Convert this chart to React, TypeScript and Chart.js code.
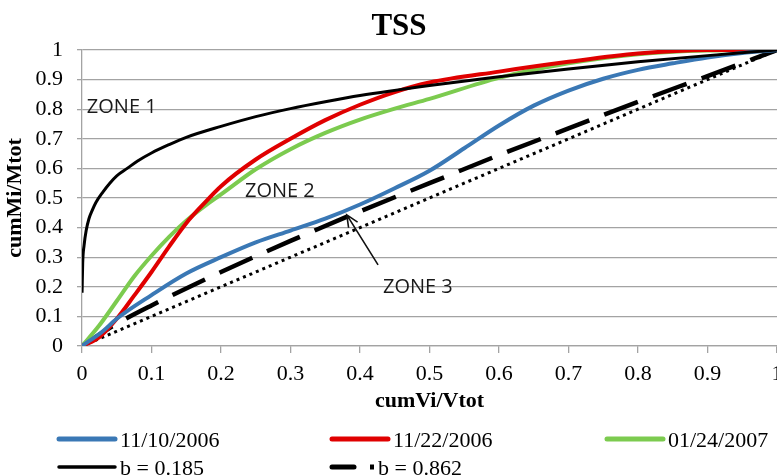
import React, { useEffect, useRef } from "react";
import { Chart, registerables } from "chart.js";

Chart.register(...registerables);

// ---------- data ----------
const tickValues = [0, 0.1, 0.2, 0.3, 0.4, 0.5, 0.6, 0.7, 0.8, 0.9, 1];

const seriesLabels = ["11/10/2006", "11/22/2006", "01/24/2007", "b = 0.185", "b = 0.862"];

const blueX = [0, 0.03, 0.05, 0.1, 0.15, 0.2, 0.25, 0.3, 0.35, 0.4, 0.45, 0.5, 0.55, 0.6, 0.65, 0.7, 0.75, 0.8, 0.85, 0.9, 0.95, 1];
const blueY = [0, 0.05, 0.092, 0.172, 0.245, 0.3, 0.35, 0.39, 0.43, 0.478, 0.533, 0.592, 0.668, 0.745, 0.812, 0.863, 0.903, 0.933, 0.955, 0.975, 0.99, 1];

const redX = [0, 0.025, 0.05, 0.075, 0.1, 0.125, 0.15, 0.175, 0.2, 0.25, 0.3, 0.35, 0.4, 0.45, 0.5, 0.6, 0.7, 0.8, 0.9, 1];
const redY = [0, 0.03, 0.092, 0.17, 0.25, 0.335, 0.415, 0.48, 0.54, 0.63, 0.7, 0.763, 0.815, 0.858, 0.89, 0.927, 0.96, 0.988, 1, 1];

const greenX = [0, 0.025, 0.05, 0.075, 0.1, 0.125, 0.15, 0.175, 0.2, 0.25, 0.3, 0.35, 0.4, 0.45, 0.5, 0.6, 0.7, 0.8, 0.9, 1];
const greenY = [0, 0.07, 0.152, 0.235, 0.305, 0.368, 0.423, 0.47, 0.512, 0.597, 0.665, 0.72, 0.765, 0.802, 0.835, 0.906, 0.955, 0.986, 0.998, 1];

const b185X = [0.0001, 0.001, 0.003, 0.006, 0.01, 0.015, 0.02, 0.03, 0.04, 0.05, 0.065, 0.08, 0.1, 0.125, 0.15, 0.2, 0.25, 0.3, 0.35, 0.4, 0.5, 0.6, 0.7, 0.8, 0.9, 1];
const b185Y = [0.18, 0.28, 0.34, 0.39, 0.43, 0.46, 0.485, 0.52, 0.55, 0.575, 0.6, 0.625, 0.652, 0.68, 0.705, 0.742, 0.775, 0.802, 0.825, 0.846, 0.88, 0.91, 0.936, 0.96, 0.981, 1];

const b862X = [0, 0.05, 0.1, 0.2, 0.3, 0.4, 0.5, 0.6, 0.7, 0.8, 0.9, 1];
const b862Y = [0, 0.075, 0.137, 0.25, 0.355, 0.455, 0.55, 0.645, 0.735, 0.825, 0.912, 1];

const diagX = [0, 1];
const diagY = [0, 1];

// annotations (data coordinates)
const zoneLabels = [
  { text: "ZONE 1", x: 0.007, y: 0.787 },
  { text: "ZONE 2", x: 0.2345, y: 0.503 },
  { text: "ZONE 3", x: 0.433, y: 0.179 },
];
const arrowFrom = { x: 0.426, y: 0.274 };
const arrowTo = { x: 0.381, y: 0.443 };

const chartTitle = "TSS";
const xTitle = "cumVi/Vtot";
const yTitle = "cumMi/Mtot";

// ---------- styles ----------
const SERIF = "'Liberation Serif', 'Times New Roman', serif";
const SANS = "'Open Sans', 'Liberation Sans', sans-serif";
const GRID = "#a3a3a3";

const toPts = (xs: number[], ys: number[]) => xs.map((x, i) => ({ x, y: ys[i] }));

const legendCols = [57, 330, 605];
const legendRows = [439, 467];

const overlayPlugin = {
  id: "overlay",
  afterDraw(chart: any) {
    const ctx = chart.ctx as CanvasRenderingContext2D;
    const xs = chart.scales.x;
    const ys = chart.scales.y;
    const area = chart.chartArea;
    ctx.save();

    // title
    ctx.fillStyle = "#000";
    ctx.font = `bold 31px ${SERIF}`;
    ctx.textAlign = "center";
    ctx.textBaseline = "alphabetic";
    ctx.fillText(chartTitle, 399, 35);

    // x title
    ctx.font = `bold 22px ${SERIF}`;
    ctx.fillText(xTitle, (area.left + area.right) / 2, 407);

    // y title
    ctx.save();
    ctx.translate(21, (area.top + area.bottom) / 2);
    ctx.rotate(-Math.PI / 2);
    ctx.fillText(yTitle, 0, 0);
    ctx.restore();

    // zone labels
    ctx.font = `20px ${SANS}`;
    ctx.textAlign = "left";
    ctx.fillStyle = "#1a1a1a";
    zoneLabels.forEach((z) => {
      ctx.fillText(z.text, xs.getPixelForValue(z.x), ys.getPixelForValue(z.y));
    });

    // arrow
    const x1 = xs.getPixelForValue(arrowFrom.x);
    const y1 = ys.getPixelForValue(arrowFrom.y);
    const x2 = xs.getPixelForValue(arrowTo.x);
    const y2 = ys.getPixelForValue(arrowTo.y);
    ctx.strokeStyle = "#111";
    ctx.lineWidth = 1.6;
    ctx.setLineDash([]);
    ctx.beginPath();
    ctx.moveTo(x1, y1);
    ctx.lineTo(x2, y2);
    const ang = Math.atan2(y2 - y1, x2 - x1);
    const hl = 13;
    ctx.moveTo(x2 - hl * Math.cos(ang - 0.42), y2 - hl * Math.sin(ang - 0.42));
    ctx.lineTo(x2, y2);
    ctx.lineTo(x2 - hl * Math.cos(ang + 0.42), y2 - hl * Math.sin(ang + 0.42));
    ctx.stroke();

    // legend (ordered by seriesLabels)
    const ds = chart.data.datasets as any[];
    const items = seriesLabels.map((l) => ds.find((d) => d.label === l)).filter(Boolean);
    ctx.font = `22px ${SERIF}`;
    ctx.fillStyle = "#000";
    items.forEach((d: any, i: number) => {
      const cx = legendCols[i % 3];
      const cy = legendRows[Math.floor(i / 3)];
      ctx.strokeStyle = d.borderColor;
      ctx.lineCap = "round";
      if (d.borderDash && d.borderDash.length) {
        ctx.lineWidth = 5;
        ctx.beginPath();
        ctx.moveTo(cx + 2, cy);
        ctx.lineTo(cx + 24, cy);
        ctx.stroke();
        ctx.lineCap = "butt";
        ctx.beginPath();
        ctx.moveTo(cx + 40, cy);
        ctx.lineTo(cx + 44, cy);
        ctx.stroke();
        ctx.fillText(d.label, cx + 48, cy + 8);
      } else {
        ctx.lineWidth = d.legendWidth;
        ctx.beginPath();
        ctx.moveTo(cx + 2, cy);
        ctx.lineTo(cx + 58, cy);
        ctx.stroke();
        ctx.fillText(d.label, cx + 63, cy + 8);
      }
    });
    ctx.restore();
  },
};

export default function App() {
  const ref = useRef<HTMLCanvasElement | null>(null);

  useEffect(() => {
    if (!ref.current) return;
    const common = { pointRadius: 0, pointHoverRadius: 0, fill: false, cubicInterpolationMode: "monotone" as const };
    const chart = new Chart(ref.current, {
      type: "line",
      data: {
        datasets: [
          { ...common, label: seriesLabels[3], data: toPts(b185X, b185Y), borderColor: "#000000", borderWidth: 3, legendWidth: 3.5 } as any,
          { ...common, label: seriesLabels[0], data: toPts(blueX, blueY), borderColor: "#3a78b5", borderWidth: 4, legendWidth: 5 } as any,
          { ...common, label: seriesLabels[1], data: toPts(redX, redY), borderColor: "#e00000", borderWidth: 4, legendWidth: 5 } as any,
          { ...common, label: seriesLabels[2], data: toPts(greenX, greenY), borderColor: "#7ccb4f", borderWidth: 4, legendWidth: 5 } as any,
          { ...common, label: seriesLabels[4], data: toPts(b862X, b862Y), borderColor: "#000000", borderWidth: 4.5, borderDash: [36, 16] } as any,
          { ...common, label: "1:1", data: toPts(diagX, diagY), borderColor: "#000000", borderWidth: 3, borderDash: [3, 4] } as any,
        ],
      },
      options: {
        animation: false,
        responsive: false,
        devicePixelRatio: 1,
        events: [],
        layout: { padding: { top: 50, right: 23, bottom: 0, left: 0 } },
        plugins: {
          legend: { display: false },
          title: { display: false },
          tooltip: { enabled: false },
        },
        scales: {
          x: {
            type: "linear",
            min: 0,
            max: 1,
            afterBuildTicks: (s: any) => {
              s.ticks = tickValues.map((v) => ({ value: v }));
            },
            afterFit: (s: any) => {
              s.height = 129;
            },
            ticks: {
              font: { family: SERIF, size: 22 },
              color: "#000",
              padding: 8,
              maxRotation: 0,
              autoSkip: false,
              callback: (v: any) => String(v),
            },
            grid: { drawOnChartArea: false, drawTicks: true, tickLength: 7, color: GRID, lineWidth: 1.3 },
            border: { display: true, color: GRID, width: 1.3 },
          },
          y: {
            type: "linear",
            min: 0,
            max: 1,
            afterBuildTicks: (s: any) => {
              s.ticks = tickValues.map((v) => ({ value: v }));
            },
            afterFit: (s: any) => {
              s.width = 82;
            },
            ticks: {
              font: { family: SERIF, size: 22 },
              color: "#000",
              padding: 14,
              autoSkip: false,
              callback: (v: any) => String(v),
            },
            grid: { drawTicks: true, tickLength: 5, color: GRID, lineWidth: 1.3 },
            border: { display: true, color: GRID, width: 1.3 },
          },
        },
      },
      plugins: [overlayPlugin],
    });
    return () => chart.destroy();
  }, []);

  return (
    <div style={{ position: "absolute", left: 0, top: 0, width: 777, height: 475, overflow: "hidden", background: "#fff" }}>
      <canvas ref={ref} width={800} height={475} style={{ display: "block" }} />
    </div>
  );
}
